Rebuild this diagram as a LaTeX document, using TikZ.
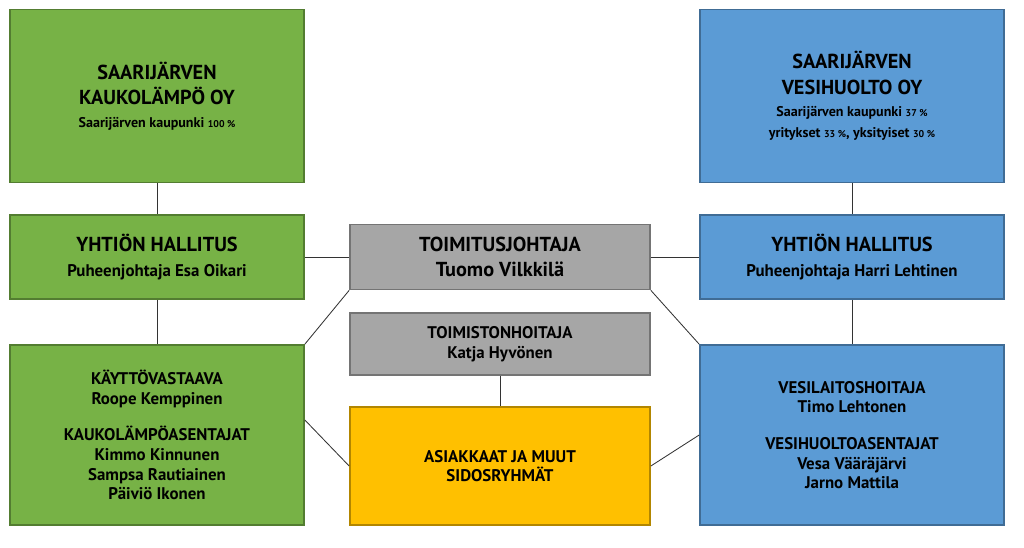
\documentclass[tikz,border=0pt]{standalone}
\usepackage{fontspec}
\setmainfont{PT Sans}
\usetikzlibrary{positioning}
\definecolor{vihrea}{HTML}{77B246}
\definecolor{sininen}{HTML}{5B9BD5}
\definecolor{harmaa}{HTML}{A6A6A6}
\definecolor{keltainen}{HTML}{FFC000}
\begin{document}
\begin{tikzpicture}[
    x=0.025cm,y=-0.025cm,
    box/.style={rectangle,draw=#1!70!black,line width=1.2pt,fill=#1,font=\bfseries\Large,align=center,inner sep=0pt},
    line/.style={draw=black!80,line width=0.6pt}]
    \useasboundingbox (0,0) rectangle (1024,547);
    \node[box=vihrea,minimum width=294*0.025cm,minimum height=173*0.025cm] (KL) at (157,96)
      {SAARIJÄRVEN\\KAUKOLÄMPÖ OY\\[-2pt]{\normalsize Saarijärven kaupunki {\scriptsize 100 \%}}};
    \node[box=vihrea,minimum width=294*0.025cm,minimum height=84*0.025cm] (HG) at (157,257)
      {YHTIÖN HALLITUS\\{\large Puheenjohtaja Esa Oikari}};
    \node[box=vihrea,minimum width=294*0.025cm,minimum height=180*0.025cm,font=\bfseries\large] (KV) at (157,435)
      {KÄYTTÖVASTAAVA\\Roope Kemppinen\\[12pt]KAUKOLÄMPÖASENTAJAT\\Kimmo Kinnunen\\Sampsa Rautiainen\\Päiviö Ikonen};
    \node[box=harmaa,minimum width=300*0.025cm,minimum height=65*0.025cm] (TJ) at (500,257)
      {TOIMITUSJOHTAJA\\Tuomo Vilkkilä};
    \node[box=harmaa,minimum width=300*0.025cm,minimum height=62*0.025cm,font=\bfseries\large] (TH) at (500,344)
      {TOIMISTONHOITAJA\\Katja Hyvönen};
    \node[box=keltainen,minimum width=300*0.025cm,minimum height=118*0.025cm,font=\bfseries\large] (AS) at (500,466)
      {ASIAKKAAT JA MUUT\\SIDOSRYHMÄT};
    \node[box=sininen,minimum width=304*0.025cm,minimum height=173*0.025cm] (VH) at (852,96)
      {SAARIJÄRVEN\\VESIHUOLTO OY\\[-2pt]{\normalsize Saarijärven kaupunki {\scriptsize 37 \%}}\\[-3pt]{\normalsize yritykset {\scriptsize 33 \%}, yksityiset {\scriptsize 30 \%}}};
    \node[box=sininen,minimum width=304*0.025cm,minimum height=84*0.025cm] (HB) at (852,257)
      {YHTIÖN HALLITUS\\{\large Puheenjohtaja Harri Lehtinen}};
    \node[box=sininen,minimum width=304*0.025cm,minimum height=180*0.025cm,font=\bfseries\large] (VL) at (852,435)
      {VESILAITOSHOITAJA\\Timo Lehtonen\\[12pt]VESIHUOLTOASENTAJAT\\Vesa Vääräjärvi\\Jarno Mattila};

    \draw[line] (KL) -- (HG);
    \draw[line] (HG) -- (KV);
    \draw[line] (VH) -- (HB);
    \draw[line] (HB) -- (VL);
    \draw[line] (HG) -- (TJ);
    \draw[line] (TJ) -- (HB);
    \draw[line] (TJ.south west) -- (KV.north east);
    \draw[line] (TJ.south east) -- (VL.north west);
    \draw[line] (TH) -- (AS);
    \draw[line] (KV.east |- 0,420) -- (AS.west);
    \draw[line] (AS.east) -- (VL.west |- 0,435);
\end{tikzpicture}
\end{document}
